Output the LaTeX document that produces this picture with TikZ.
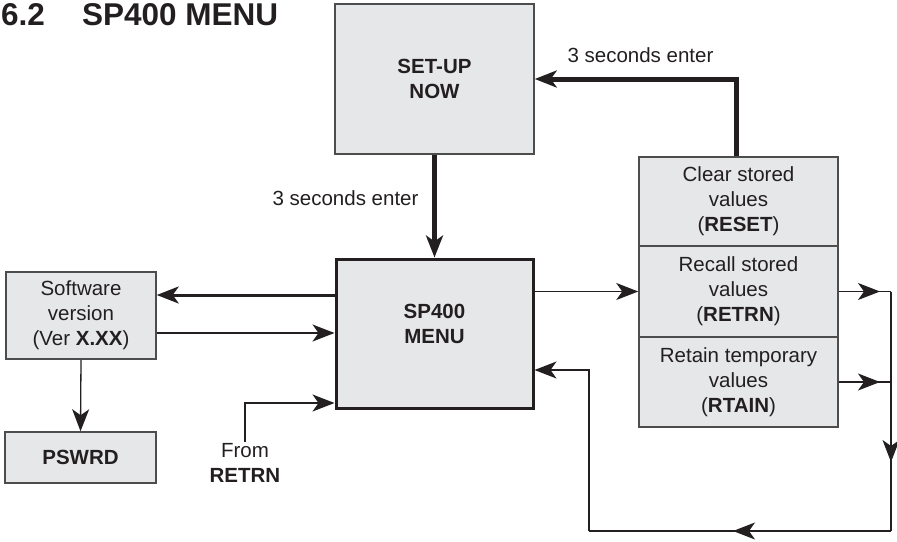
\documentclass[tikz,border=0pt]{standalone}
\usepackage{fontspec}
\setmainfont{Liberation Sans}
\usetikzlibrary{arrows.meta,decorations.markings}

\definecolor{boxgrey}{HTML}{E6E7E8}
\definecolor{edgegrey}{HTML}{4D4D4D}
\definecolor{inkblack}{HTML}{231F20}

\begin{document}
\begin{tikzpicture}[x=1pt, y=-1pt, inkblack, font=\fontsize{20.5}{25}\selectfont,
greybox/.style={rectangle, draw=edgegrey, fill=boxgrey, line width=1.5pt, align=center, inner sep=0pt},
menubox/.style={greybox, draw=inkblack, line width=3pt},
titletext/.style={anchor=base west, inner sep=0pt, font=\bfseries\fontsize{31.5}{36}\selectfont},
flow/.style={line width=1.3pt, -{Stealth[length=22pt, width=17pt, inset=6pt]}},
flowline/.style={line width=1.3pt},
tipat/.style={postaction={decorate}, decoration={markings, mark=at position #1 with {\arrow{Stealth[length=22pt, width=17pt, inset=6pt]}}}}]
\useasboundingbox (0,0) rectangle (897,541);

\node[titletext](titleNum) at (1, 25){6.2};
\node[titletext](titleText) at (82, 25){SP400 MENU};

\node[greybox, minimum width=199pt, minimum height=150pt](setup) at (434.5, 79){\textbf{SET-UP}\\\textbf{NOW}};
\node[menubox, minimum width=197pt, minimum height=149pt, text depth=20pt](menu) at (434.5, 333.5){\textbf{SP400}\\\textbf{MENU}};
\node[greybox, minimum width=199pt, minimum height=89pt](reset) at (738.5, 201.5){Clear stored\\values\\(\textbf{RESET})};
\node[greybox, minimum width=199pt, minimum height=91pt](retrn) at (738.5, 291.5){Recall stored\\values\\(\textbf{RETRN})};
\node[greybox, minimum width=199pt, minimum height=90pt](rtain) at (738.5, 382){Retain temporary\\values\\(\textbf{RTAIN})};
\node[greybox, minimum width=150pt, minimum height=87pt](software) at (81, 315.5){Software\\version\\(Ver \textbf{X.XX})};
\node[greybox, minimum width=151pt, minimum height=51pt](pswrd) at (80.5, 457.5){\textbf{PSWRD}};

\node[anchor=east](enterDown) at (422, 198){3 seconds enter};
\node(enterUp) at (640.5, 55){3 seconds enter};
\node[align=center, inner sep=1pt](fromRetrn) at (245, 462.5){From\\\textbf{RETRN}};

\coordinate (swOut) at ([yshift=20.5pt]software.east);
\coordinate (swIn) at ([yshift=-17.5pt]software.east);
\coordinate (menuIn) at ([yshift=-69.5pt]menu.west);
\coordinate (menuBack) at ([yshift=-36.5pt]menu.east);
\coordinate (busTop) at (891, 291.5);
\coordinate (busMid) at (891, 382);
\coordinate (busEnd) at (891, 531);
\coordinate (busLeft) at (589, 531);

\draw[flow, line width=5pt](setup.south) -- (setup.south |- menu.north);
\draw[flow, line width=5pt]([xshift=-2.5pt]reset.north) |- (setup.east);

\draw[flow, line width=3pt](menu.west |- swOut) -- (swOut);
\draw[flow](swIn) -- (menu.west |- swIn);
\draw[flow](software.south) -- (pswrd.north);
\draw[flow](fromRetrn.north) |- (menuIn);
\draw[flow](menu.east |- retrn.west) -- (retrn.west);

\draw[flowline, tipat=-11pt](retrn.east) -- (busTop);
\draw[flowline, tipat=-11pt](rtain.east) -- (busMid);
\draw[flowline, tipat=-69pt](busTop) -- (busEnd);
\draw[flowline, tipat=-144pt](busEnd) -- (busLeft);
\draw[flow](busLeft) |- (menuBack);

%%%%%%%%%%%%%%%%%%%%%%%%%%%%%%%%%%%%%%%%%%%%%%%%%%%%%%%%%%%%%%%%%%%%%%%

\end{tikzpicture}
\end{document}
